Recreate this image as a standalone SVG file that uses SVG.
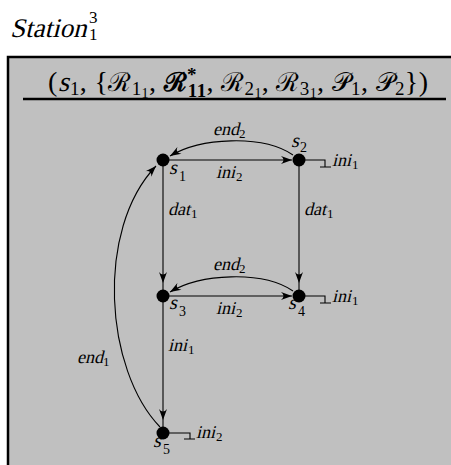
<svg xmlns="http://www.w3.org/2000/svg" width="451" height="465" viewBox="0 0 451 465">
<style>
.it{font-family:"Liberation Serif",serif;font-style:normal;fill:#000}
.rm{font-family:"Liberation Serif",serif;fill:#000}
.sc{font-family:"DejaVu Serif",serif;fill:#000}
.lb{font-size:18px}
.ns{font-size:20px}
.sb{font-family:"Liberation Serif",serif;font-size:13px;fill:#000}
.nsb{font-family:"Liberation Serif",serif;font-size:14px;fill:#000}
.edge{fill:none;stroke:#000;stroke-width:1.1}
.node{fill:#000}
</style>
<defs>
<marker id="ah" markerUnits="userSpaceOnUse" markerWidth="14" markerHeight="10" viewBox="-12 -5 14 10" refX="0" refY="0" orient="auto">
<path d="M0,0 L-11,-4 Q-6,0 -11,4 Z" fill="#000"/>
</marker>
</defs>
<rect width="451" height="465" fill="#fff"/>
<g id="title">
<text class="it" font-size="27" transform="translate(10,37) skewX(-14)">Station</text>
<text class="rm" font-size="17" x="89" y="23">3</text>
<text class="rm" font-size="17" x="89" y="40">1</text>
</g>
<g id="frame">
<rect x="8" y="57" width="443" height="408" fill="#c0c0c0"/>
<path d="M8,465 L8,57 L451,57" fill="none" stroke="#000" stroke-width="2.5"/>
<text class="rm" x="48" y="91" font-size="28">(</text>
<text class="it" font-size="28" transform="translate(58,91) skewX(-14)">s</text>
<text class="rm" x="70" y="91" font-size="28" textLength="358" lengthAdjust="spacing"><tspan font-size="19" dy="4">1</tspan><tspan dy="-4">, {</tspan><tspan class="sc" font-size="26">ℛ</tspan><tspan font-size="19" dy="4">1</tspan><tspan font-size="14" dy="3">1</tspan><tspan dy="-7">, </tspan><tspan class="sc" font-size="26" font-weight="bold">ℛ</tspan><tspan font-size="19" font-weight="bold" dy="-10">*</tspan><tspan font-size="19" font-weight="bold" dx="-9" dy="16">11</tspan><tspan dy="-6">, </tspan><tspan class="sc" font-size="26">ℛ</tspan><tspan font-size="19" dy="4">2</tspan><tspan font-size="14" dy="3">1</tspan><tspan dy="-7">, </tspan><tspan class="sc" font-size="26">ℛ</tspan><tspan font-size="19" dy="4">3</tspan><tspan font-size="14" dy="3">1</tspan><tspan dy="-7">, </tspan><tspan class="sc" font-size="26">𝒫</tspan><tspan font-size="19" dy="4">1</tspan><tspan dy="-4">, </tspan><tspan class="sc" font-size="26">𝒫</tspan><tspan font-size="19" dy="4">2</tspan><tspan dy="-4">})</tspan></text>
<line x1="23" y1="99" x2="446" y2="99" stroke="#000" stroke-width="2.5"/>
</g>
<g id="connectors">
<line class="edge" x1="163" y1="160" x2="292" y2="160" marker-end="url(#ah)"/>
<path class="edge" d="M293,155 C262,134 200,138 170,156" marker-end="url(#ah)"/>
<line class="edge" x1="163" y1="160" x2="163" y2="283" marker-end="url(#ah)"/>
<line class="edge" x1="163" y1="283" x2="163" y2="290"/>
<line class="edge" x1="299" y1="160" x2="299" y2="283" marker-end="url(#ah)"/>
<line class="edge" x1="299" y1="283" x2="299" y2="290"/>
<line class="edge" x1="163" y1="296" x2="292" y2="296" marker-end="url(#ah)"/>
<path class="edge" d="M293,291 C262,270 200,274 170,292" marker-end="url(#ah)"/>
<line class="edge" x1="163" y1="296" x2="163" y2="420" marker-end="url(#ah)"/>
<line class="edge" x1="163" y1="420" x2="163" y2="427"/>
<path class="edge" d="M160,427 C105,370 95,230 156,166" marker-end="url(#ah)"/>
<path class="edge" d="M299,160 L325,160 L325,167 M320,167 L331,167"/>
<path class="edge" d="M299,296 L325,296 L325,303 M320,303 L331,303"/>
<path class="edge" d="M163,433 L190,433 L190,439 M184,439 L195,439"/>
<g transform="translate(213,135)"><text class="it lb" transform="skewX(-14)">end</text><text class="sb" x="26" y="3">2</text></g>
<g transform="translate(216,178)"><text class="it lb" transform="skewX(-14)">ini</text><text class="sb" x="20" y="3">2</text></g>
<g transform="translate(168,215)"><text class="it lb" transform="skewX(-14)">dat</text><text class="sb" x="23" y="3">1</text></g>
<g transform="translate(304,215)"><text class="it lb" transform="skewX(-14)">dat</text><text class="sb" x="23" y="3">1</text></g>
<g transform="translate(213,270)"><text class="it lb" transform="skewX(-14)">end</text><text class="sb" x="26" y="3">2</text></g>
<g transform="translate(216,314)"><text class="it lb" transform="skewX(-14)">ini</text><text class="sb" x="20" y="3">2</text></g>
<g transform="translate(168,351)"><text class="it lb" transform="skewX(-14)">ini</text><text class="sb" x="20" y="3">1</text></g>
<g transform="translate(77,363)"><text class="it lb" transform="skewX(-14)">end</text><text class="sb" x="26" y="3">1</text></g>
<g transform="translate(332,166)"><text class="it lb" transform="skewX(-14)">ini</text><text class="sb" x="20" y="3">1</text></g>
<g transform="translate(332,302)"><text class="it lb" transform="skewX(-14)">ini</text><text class="sb" x="20" y="3">1</text></g>
<g transform="translate(196,438)"><text class="it lb" transform="skewX(-14)">ini</text><text class="sb" x="20" y="3">2</text></g>
</g>
<g id="s1"><circle class="node" cx="163" cy="160" r="6.5"/><text class="it ns" transform="translate(169,174) skewX(-14)">s</text><text class="nsb" x="179" y="181">1</text></g>
<g id="s2"><circle class="node" cx="299" cy="160" r="6.5"/><text class="it ns" transform="translate(291,147) skewX(-14)">s</text><text class="nsb" x="300" y="152">2</text></g>
<g id="s3"><circle class="node" cx="163" cy="296" r="6.5"/><text class="it ns" transform="translate(169,309) skewX(-14)">s</text><text class="nsb" x="179" y="316">3</text></g>
<g id="s4"><circle class="node" cx="299" cy="296" r="6.5"/><text class="it ns" transform="translate(288,309) skewX(-14)">s</text><text class="nsb" x="298" y="316">4</text></g>
<g id="s5"><circle class="node" cx="163" cy="433" r="6.5"/><text class="it ns" transform="translate(153,447) skewX(-14)">s</text><text class="nsb" x="163" y="454">5</text></g>
</svg>
